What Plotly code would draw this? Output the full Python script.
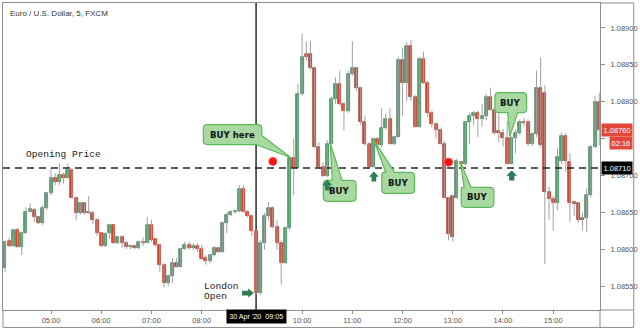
import math
import pandas as pd
import plotly.graph_objects as go

# ---------------- data (EUR/USD 5-min, 30 Apr 2020) ----------------
opens = [1.08575,1.08611,1.08604,1.08626,1.08603,1.08622,1.08650,1.08653,1.08644,1.08636,
         1.08656,1.08676,1.08696,1.08691,1.08700,1.08696,1.08708,1.08670,1.08649,1.08662,
         1.08651,1.08649,1.08640,1.08622,1.08604,1.08622,1.08633,1.08608,1.08616,1.08608,
         1.08603,1.08604,1.08601,1.08610,1.08609,1.08633,1.08614,1.08606,1.08579,1.08554,
         1.08564,1.08581,1.08576,1.08600,1.08606,1.08601,1.08604,1.08600,1.08588,1.08584,
         1.08592,1.08602,1.08596,1.08635,1.08646,1.08650,1.08652,1.08682,1.08651,1.08645,
         1.08625,1.08541,1.08608,1.08645,1.08656,1.08630,1.08608,1.08581,1.08629,1.08723,
         1.08710,1.08811,1.08864,1.08864,1.08845,1.08739,1.08711,1.08699,1.08743,1.08803,
         1.08824,1.08797,1.08788,1.08838,1.08845,1.08818,1.08772,1.08743,1.08712,1.08750,
         1.08741,1.08764,1.08777,1.08743,1.08752,1.08857,1.08826,1.08876,1.08806,1.08766,
         1.08858,1.08826,1.08784,1.08770,1.08761,1.08743,1.08669,1.08672,1.08670,1.08718,
         1.08716,1.08772,1.08780,1.08785,1.08776,1.08780,1.08807,1.08789,1.08760,1.08757,
         1.08751,1.08716,1.08751,1.08757,1.08773,1.08773,1.08742,1.08756,1.08818,1.08812,
         1.08678,1.08668,1.08662,1.08720,1.08754,1.08718,1.08664,1.08662,1.08642,1.08642,
         1.08673,1.08738,1.08799]
highs = [1.08612,1.08616,1.08627,1.08629,1.08623,1.08657,1.08662,1.08656,1.08645,1.08660,
         1.08677,1.08710,1.08703,1.08716,1.08704,1.08716,1.08710,1.08670,1.08664,1.08664,
         1.08672,1.08652,1.08642,1.08623,1.08623,1.08633,1.08633,1.08617,1.08619,1.08611,
         1.08606,1.08604,1.08612,1.08616,1.08644,1.08640,1.08615,1.08607,1.08581,1.08566,
         1.08588,1.08588,1.08601,1.08610,1.08610,1.08608,1.08608,1.08606,1.08592,1.08594,
         1.08604,1.08603,1.08637,1.08650,1.08653,1.08653,1.08687,1.08687,1.08653,1.08646,
         1.08627,1.08613,1.08649,1.08664,1.08658,1.08639,1.08612,1.08631,1.08725,1.08750,
         1.08824,1.08892,1.08882,1.08882,1.08845,1.08745,1.08718,1.08748,1.08807,1.08833,
         1.08842,1.08799,1.08842,1.08882,1.08847,1.08820,1.08781,1.08745,1.08752,1.08752,
         1.08791,1.08784,1.08791,1.08754,1.08861,1.08873,1.08881,1.08884,1.08809,1.08861,
         1.08868,1.08828,1.08788,1.08772,1.08765,1.08747,1.08671,1.08674,1.08723,1.08720,
         1.08774,1.08785,1.08788,1.08788,1.08797,1.08810,1.08819,1.08790,1.08784,1.08763,
         1.08774,1.08753,1.08763,1.08776,1.08778,1.08776,1.08759,1.08842,1.08860,1.08822,
         1.08685,1.08672,1.08737,1.08758,1.08757,1.08730,1.08666,1.08664,1.08649,1.08683,
         1.08741,1.08808,1.08812]
lows = [1.08569,1.08603,1.08603,1.08602,1.08592,1.08621,1.08650,1.08637,1.08634,1.08633,
        1.08653,1.08673,1.08687,1.08687,1.08689,1.08696,1.08669,1.08639,1.08647,1.08647,
        1.08648,1.08634,1.08618,1.08603,1.08603,1.08614,1.08607,1.08607,1.08602,1.08600,
        1.08600,1.08600,1.08600,1.08604,1.08609,1.08610,1.08603,1.08569,1.08548,1.08550,
        1.08554,1.08575,1.08575,1.08599,1.08599,1.08599,1.08596,1.08586,1.08579,1.08581,
        1.08590,1.08595,1.08595,1.08622,1.08645,1.08648,1.08650,1.08650,1.08643,1.08618,
        1.08538,1.08538,1.08599,1.08639,1.08628,1.08599,1.08552,1.08580,1.08626,1.08673,
        1.08710,1.08808,1.08855,1.08843,1.08737,1.08709,1.08698,1.08698,1.08742,1.08797,
        1.08794,1.08761,1.08785,1.08835,1.08815,1.08769,1.08740,1.08711,1.08711,1.08738,
        1.08738,1.08762,1.08742,1.08741,1.08751,1.08781,1.08801,1.08801,1.08765,1.08765,
        1.08824,1.08779,1.08765,1.08750,1.08742,1.08669,1.08612,1.08610,1.08668,1.08714,
        1.08714,1.08743,1.08768,1.08752,1.08766,1.08775,1.08788,1.08755,1.08745,1.08739,
        1.08715,1.08715,1.08730,1.08755,1.08766,1.08740,1.08740,1.08752,1.08738,1.08580,
        1.08640,1.08625,1.08653,1.08716,1.08705,1.08637,1.08645,1.08636,1.08626,1.08623,
        1.08671,1.08737,1.08741]
closes = [1.08610,1.08604,1.08626,1.08603,1.08622,1.08650,1.08654,1.08644,1.08636,1.08656,
          1.08676,1.08696,1.08691,1.08700,1.08696,1.08708,1.08670,1.08649,1.08662,1.08649,
          1.08649,1.08639,1.08622,1.08604,1.08621,1.08633,1.08608,1.08616,1.08608,1.08603,
          1.08604,1.08601,1.08610,1.08609,1.08633,1.08612,1.08606,1.08579,1.08554,1.08564,
          1.08581,1.08576,1.08600,1.08606,1.08602,1.08604,1.08600,1.08587,1.08584,1.08592,
          1.08602,1.08596,1.08635,1.08646,1.08650,1.08652,1.08682,1.08651,1.08645,1.08625,
          1.08541,1.08608,1.08645,1.08656,1.08630,1.08608,1.08581,1.08629,1.08723,1.08710,
          1.08811,1.08860,1.08860,1.08845,1.08739,1.08711,1.08699,1.08743,1.08803,1.08824,
          1.08797,1.08788,1.08838,1.08845,1.08818,1.08772,1.08743,1.08712,1.08750,1.08741,
          1.08764,1.08777,1.08743,1.08752,1.08857,1.08826,1.08876,1.08806,1.08766,1.08858,
          1.08826,1.08784,1.08770,1.08761,1.08743,1.08670,1.08620,1.08616,1.08720,1.08716,
          1.08772,1.08780,1.08785,1.08776,1.08780,1.08807,1.08789,1.08758,1.08757,1.08751,
          1.08716,1.08751,1.08757,1.08773,1.08771,1.08742,1.08756,1.08818,1.08741,1.08678,
          1.08668,1.08662,1.08725,1.08754,1.08720,1.08662,1.08661,1.08639,1.08639,1.08673,
          1.08738,1.08799,1.08761]

start_time = "2020-04-30 04:05"
opening_price = 1.08710
signal_times = ["2020-04-30 09:25", "2020-04-30 12:55"]
signal_prices = [1.08719, 1.08718]
london_open = "2020-04-30 09:05"
hour_ticks = ["2020-04-30 %02d:00" % h for h in range(5, 16)]
hour_labels = ["05:00", "06:00", "07:00", "08:00", "", "10:00", "11:00", "12:00",
               "13:00", "14:00", "15:00"]
price_ticks = [1.0855, 1.0860, 1.0865, 1.0870, 1.0875, 1.0880, 1.0885, 1.0890]
price_labels = ["1.08550", "1.08600", "1.08650", "1.08700", "", "1.08800", "1.08850", "1.08900"]
last_price_label = "1.08760"
countdown_label = "02:16"

times = pd.date_range(start_time, periods=len(opens), freq="5min")

# ---------------- styles ----------------
UP_FILL, UP_LINE = "#56a273", "#3b7d55"
DN_FILL, DN_LINE = "#d9452f", "#b23321"
WICK = "#a0a0a0"
FRAME = "#8e8e8e"
BUB_FILL, BUB_LINE = "#a7d9a0", "#5db95a"
ARROW = "#2f7d52"

PL, PR, PT, PB = 2, 604, 2, 310
def px(x): return (x - PL) / (PR - PL)
def py(y): return (PB - y) / (PB - PT)

fig = go.Figure()

# wicks
wx, wy = [], []
for t, h, l in zip(times, highs, lows):
    wx += [t, t, None]
    wy += [l, h, None]
fig.add_trace(go.Scatter(x=wx, y=wy, mode="lines", line=dict(color=WICK, width=1),
                         hoverinfo="skip", showlegend=False))

# bodies
base = [min(o, c) for o, c in zip(opens, closes)]
hgt = [max(abs(c - o), 0.000014) for o, c in zip(opens, closes)]
fills = [UP_FILL if c >= o else DN_FILL for o, c in zip(opens, closes)]
lines = [UP_LINE if c >= o else DN_LINE for o, c in zip(opens, closes)]
fig.add_trace(go.Bar(x=times, y=hgt, base=base, width=215000,
                     marker=dict(color=fills, line=dict(color=lines, width=0.7)),
                     showlegend=False, hoverinfo="skip"))

# signal dots
fig.add_trace(go.Scatter(x=pd.to_datetime(signal_times), y=signal_prices, mode="markers",
                         marker=dict(symbol="circle", size=8, color="#ff1010",
                                     line=dict(color="#ff4a4a", width=1)),
                         showlegend=False, hoverinfo="skip"))

shapes = []
shapes.append(dict(type="line", xref="x", yref="paper", x0=london_open, x1=london_open,
                   y0=0, y1=1, line=dict(color="#2b2b2b", width=1.5), layer="below"))
shapes.append(dict(type="line", xref="paper", yref="y", x0=0, x1=1, y0=opening_price,
                   y1=opening_price, line=dict(color="#262626", width=1.6, dash="7px,5px")))

def hline(y, x0, x1):
    shapes.append(dict(type="line", xref="paper", yref="paper", x0=px(x0), x1=px(x1),
                       y0=py(y), y1=py(y), line=dict(color=FRAME, width=1)))
def vline(x, y0, y1):
    shapes.append(dict(type="line", xref="paper", yref="paper", x0=px(x), x1=px(x),
                       y0=py(y0), y1=py(y1), line=dict(color=FRAME, width=1)))
hline(PB, PR, 638); hline(PT, PR, 638); hline(327.5, PL, 638)
vline(PR, PB, 327.5); vline(638, PT, 327.5); vline(PL, PB, 327.5)

def rpath(pts, flags, r=4):
    out = []
    n = len(pts)
    for i in range(n):
        x, y = pts[i]
        if flags[i]:
            ax_, ay_ = pts[i - 1]
            bx_, by_ = pts[(i + 1) % n]
            d1 = math.hypot(ax_ - x, ay_ - y)
            d2 = math.hypot(bx_ - x, by_ - y)
            rr = min(r, d1 / 2, d2 / 2)
            a = (x + (ax_ - x) / d1 * rr, y + (ay_ - y) / d1 * rr)
            b = (x + (bx_ - x) / d2 * rr, y + (by_ - y) / d2 * rr)
            out.append(("L", a))
            out.append(("Q", (x, y), b))
        else:
            out.append(("L", (x, y)))
    s = ""
    for k, seg in enumerate(out):
        if seg[0] == "L":
            cmd = "M" if k == 0 else "L"
            s += f"{cmd}{px(seg[1][0]):.5f},{py(seg[1][1]):.5f} "
        else:
            s += (f"Q{px(seg[1][0]):.5f},{py(seg[1][1]):.5f} "
                  f"{px(seg[2][0]):.5f},{py(seg[2][1]):.5f} ")
    return s + "Z"

def bubble(pts, flags):
    shapes.append(dict(type="path", xref="paper", yref="paper", path=rpath(pts, flags),
                       fillcolor=BUB_FILL, line=dict(color=BUB_LINE, width=1.2)))

bubble([(204, 124), (263, 124), (263, 135), (292, 157), (257, 144), (204, 144)],
       [1, 1, 0, 0, 0, 1])
bubble([(325, 180), (334, 180), (332, 143), (344, 180), (358, 180), (358, 201), (325, 201)],
       [1, 0, 0, 0, 1, 1, 1])
bubble([(384, 172), (388, 172), (376, 140), (397, 172), (417, 172), (417, 193), (384, 193)],
       [1, 0, 0, 0, 1, 1, 1])
bubble([(464, 187), (467, 187), (463, 161), (474, 187), (497, 187), (497, 207), (464, 207)],
       [1, 0, 0, 0, 1, 1, 1])
bubble([(498, 92), (530, 92), (530, 112), (521, 112), (513, 136), (511, 112), (498, 112)],
       [1, 1, 1, 0, 0, 0, 1])

def up_arrow(cx, y0, w, h):
    sw = w * 0.24
    pts = [(cx, y0), (cx + w / 2, y0 + h * 0.52), (cx + sw, y0 + h * 0.52), (cx + sw, y0 + h),
           (cx - sw, y0 + h), (cx - sw, y0 + h * 0.52), (cx - w / 2, y0 + h * 0.52)]
    shapes.append(dict(type="path", xref="paper", yref="paper",
                       path=rpath(pts, [0] * 7), fillcolor=ARROW, line=dict(width=0)))

def right_arrow(x1, cy, w, h):
    sh = h * 0.26
    x0 = x1 - w
    pts = [(x1, cy), (x1 - w * 0.48, cy + h / 2), (x1 - w * 0.48, cy + sh), (x0, cy + sh),
           (x0, cy - sh), (x1 - w * 0.48, cy - sh), (x1 - w * 0.48, cy - h / 2)]
    shapes.append(dict(type="path", xref="paper", yref="paper",
                       path=rpath(pts, [0] * 7), fillcolor=ARROW, line=dict(width=0)))

up_arrow(329, 179, 10, 11)
up_arrow(376, 171, 10, 10)
up_arrow(515, 170, 11, 10)
right_arrow(255, 293, 12, 9)

annotations = []
def text(x, y, s, size, family, color="#111", anchor="center"):
    annotations.append(dict(xref="paper", yref="paper", x=px(x), y=py(y), text=s,
                            showarrow=False, xanchor=anchor, yanchor="middle",
                            font=dict(size=size, family=family, color=color)))

BUYF = "DejaVu Sans"
text(233.5, 134, "<b>BUY here</b>", 8.6, BUYF)
text(341.5, 190.5, "<b>BUY</b>", 8.6, BUYF)
text(400.5, 182.5, "<b>BUY</b>", 8.6, BUYF)
text(480.5, 197, "<b>BUY</b>", 8.6, BUYF)
text(514, 102, "<b>BUY</b>", 8.6, BUYF)

MONO = "Liberation Mono"
text(23, 153.5, "Opening Price", 9.6, MONO, "#222", "left")
text(203, 286, "London", 9.6, MONO, "#222", "left")
text(203, 296, "Open", 9.6, MONO, "#222", "left")

text(7, 13, "Euro / U.S. Dollar, 5, FXCM", 8, "Liberation Sans", "#333", "left")

annotations.append(dict(xref="x", yref="paper", x=london_open, y=py(317), text="30 Apr '20  09:05",
                        showarrow=False, xanchor="center", yanchor="middle", bgcolor="#000000",
                        borderpad=2.2, font=dict(size=7.2, family="Liberation Sans", color="#ffffff")))
annotations.append(dict(xref="paper", yref="y", x=px(605), y=opening_price, text=f"{opening_price:.5f}",
                        showarrow=False, xanchor="left", yanchor="middle", bgcolor="#000000",
                        borderpad=1.5, font=dict(size=7.5, family="Liberation Sans", color="#ffffff")))
annotations.append(dict(xref="paper", yref="y", x=px(605), y=closes[-1], text=last_price_label,
                        showarrow=False, xanchor="left", yanchor="middle", bgcolor="#e2483a",
                        borderpad=1.5, font=dict(size=7.5, family="Liberation Sans", color="#ffffff")))
annotations.append(dict(xref="paper", yref="paper", x=px(637), y=py(142), text=countdown_label,
                        showarrow=False, xanchor="right", yanchor="middle", bgcolor="#e2483a",
                        borderpad=1.5, font=dict(size=7.5, family="Liberation Sans", color="#ffffff")))

fig.update_layout(
    width=640, height=329,
    margin=dict(l=PL, r=640 - PR, t=PT, b=329 - PB),
    paper_bgcolor="white", plot_bgcolor="white",
    barmode="overlay", bargap=0,
    shapes=shapes, annotations=annotations,
    showlegend=False,
    xaxis=dict(type="date", range=["2020-04-30 04:02:38", "2020-04-30 15:55:54"],
               showgrid=False, zeroline=False, showline=True, mirror=True,
               linecolor=FRAME, linewidth=1, ticks="outside", ticklen=3, tickcolor=FRAME,
               tickvals=hour_ticks, ticktext=hour_labels,
               tickfont=dict(size=7.5, family="Liberation Sans", color="#555")),
    yaxis=dict(side="right", range=[1.0851757, 1.0893378], showgrid=False, zeroline=False,
               showline=True, mirror=True, linecolor=FRAME, linewidth=1,
               ticks="outside", ticklen=4, tickcolor=FRAME,
               tickvals=price_ticks, ticktext=price_labels, ticklabelstandoff=4,
               tickfont=dict(size=7.5, family="Liberation Sans", color="#555")),
)

fig.write_html("out.html")
